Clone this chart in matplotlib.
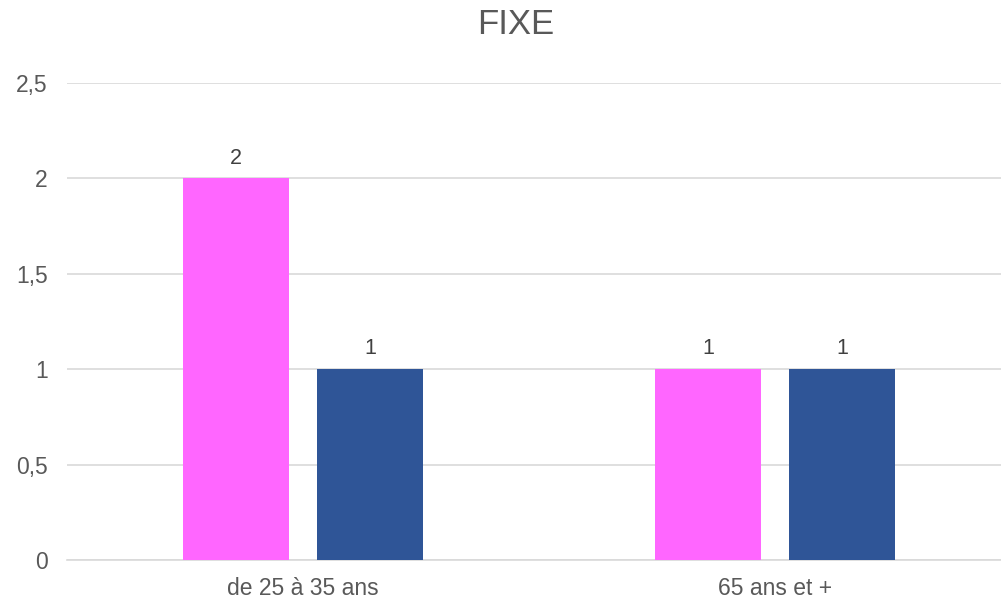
import numpy as np
import matplotlib
matplotlib.use('Agg')
import matplotlib.pyplot as plt
from matplotlib.ticker import FuncFormatter

plt.rcParams['font.family'] = ['Liberation Sans', 'DejaVu Sans']

# donnees
categories = ['de 25 à 35 ans', '65 ans et +']
serie_rose = [2, 1]
serie_bleue = [1, 1]

COUL_ROSE = '#FF66FF'
COUL_BLEU = '#2F5597'
GRIS_TXT = '#595959'

fig = plt.figure(figsize=(10.01, 6.04), dpi=100)
ax = fig.add_axes([67/1001, 44/604, 944/1001, 477/604])

x = np.arange(len(categories))
w = 0.225
off = 0.142

b1 = ax.bar(x - off, serie_rose, width=w, color=COUL_ROSE, zorder=3)
b2 = ax.bar(x + off, serie_bleue, width=w, color=COUL_BLEU, zorder=3)

for b in (b1, b2):
    ax.bar_label(b, labels=[str(v) for v in b.datavalues], padding=7,
                 fontsize=15.5, color='#404040')

ax.set_xlim(-0.5, 1.5)
ax.set_ylim(0, 2.5)
ax.set_yticks(np.arange(0, 2.51, 0.5))
ax.yaxis.set_major_formatter(FuncFormatter(lambda v, p: ('%g' % v).replace('.', ',')))
ax.set_xticks(x)
ax.set_xticklabels(categories)

ax.grid(axis='y', color='#D9D9D9', lw=1.2, zorder=0)
for s in ['top', 'right', 'left']:
    ax.spines[s].set_visible(False)
ax.spines['bottom'].set_color('#D9D9D9')
ax.spines['bottom'].set_linewidth(1.2)
ax.tick_params(axis='both', length=0, labelsize=16.5, colors=GRIS_TXT)
ax.tick_params(axis='y', pad=14)
ax.tick_params(axis='x', pad=12)

fig.text(516/1001, 1 - 25/604, 'FIXE', ha='center', va='center',
         fontsize=25, color=GRIS_TXT)

plt.savefig('out.png', dpi=100)
